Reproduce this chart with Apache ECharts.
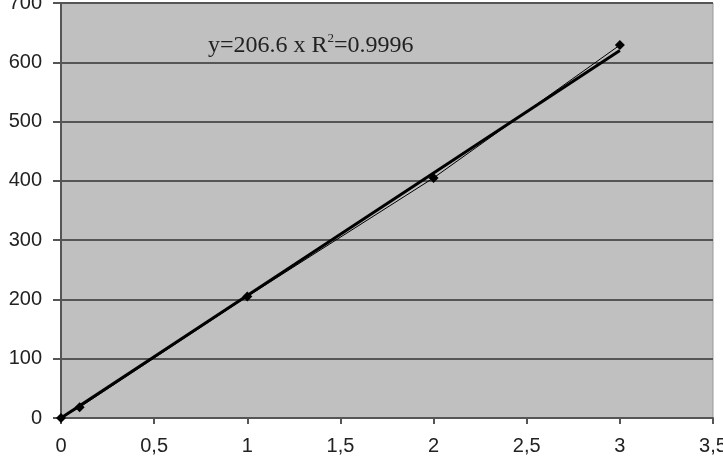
<!DOCTYPE html>
<html>
<head>
<meta charset="utf-8">
<script src="https://cdn.jsdelivr.net/npm/echarts@6/dist/echarts.min.js"></script>
<style>
html, body { margin: 0; padding: 0; background: #fff; }
#main { width: 723px; height: 472px; }
</style>
</head>
<body>
<div id="main"></div>
<script>
// 测量点
var xValues = [0, 0.1, 1, 2, 3]
var yValues = [0, 18, 205, 405, 629]
// 趋势线 y = 206.6 x
var slope = 206.6
var trendX = [0, 3]

var points = []
for (var i = 0; i < xValues.length; i++) {
    points.push([xValues[i], yValues[i]])
}
var trend = []
for (var j = 0; j < trendX.length; j++) {
    trend.push([trendX[j], slope * trendX[j]])
}

var labelFont = 'Liberation Sans, Arial, sans-serif'
var serif = '"Liberation Serif", "Times New Roman", serif'

var option = {
    backgroundColor: '#fff',
    animation: false,
    grid: {
        left: 61,
        right: 10,
        top: 3,
        bottom: 54,
        outerBoundsMode: 'none',
        containLabel: false,
        show: true,
        backgroundColor: '#c0c0c0',
        borderColor: '#999',
        borderWidth: 1
    },
    xAxis: {
        type: 'value',
        min: 0,
        max: 3.5,
        interval: 0.5,
        axisLine: { show: true, onZero: false, lineStyle: { color: '#555', width: 2 } },
        axisTick: { show: true, length: 6, lineStyle: { color: '#555', width: 2 } },
        axisLabel: {
            color: '#222',
            fontFamily: labelFont,
            fontSize: 20,
            margin: 18,
            formatter: function(v) { return String(v).replace('.', ',') }
        },
        splitLine: { show: false }
    },
    yAxis: {
        type: 'value',
        min: 0,
        max: 700,
        interval: 100,
        axisLine: { show: true, lineStyle: { color: '#555', width: 2 } },
        axisTick: { show: true, length: 8, lineStyle: { color: '#555', width: 2 } },
        axisLabel: {
            color: '#222',
            fontFamily: labelFont,
            fontSize: 20,
            margin: 19
        },
        splitLine: { show: true, lineStyle: { color: '#555', width: 2 } }
    },
    graphic: [{
        type: 'text',
        left: 208,
        top: 32,
        style: {
            text: '{n|y=206.6 x R}{s|2}{n|=0.9996}',
            rich: {
                n: {
                    fill: '#222',
                    fontSize: 24,
                    fontFamily: serif,
                    lineHeight: 26,
                    verticalAlign: 'bottom'
                },
                s: {
                    fill: '#222',
                    fontSize: 13,
                    fontFamily: serif,
                    lineHeight: 26,
                    verticalAlign: 'top',
                    padding: [0, 0, 11, 0]
                }
            }
        }
    }],
    series: [{
        name: 'data',
        type: 'line',
        data: points,
        symbol: 'diamond',
        symbolSize: 10,
        itemStyle: { color: '#000' },
        lineStyle: { color: '#000', width: 1 },
        z: 3
    }, {
        name: 'trend',
        type: 'line',
        data: trend,
        symbol: 'none',
        lineStyle: { color: '#000', width: 3 },
        z: 2
    }]
}
echarts.init(document.getElementById('main')).setOption(option)
</script>
</body>
</html>
